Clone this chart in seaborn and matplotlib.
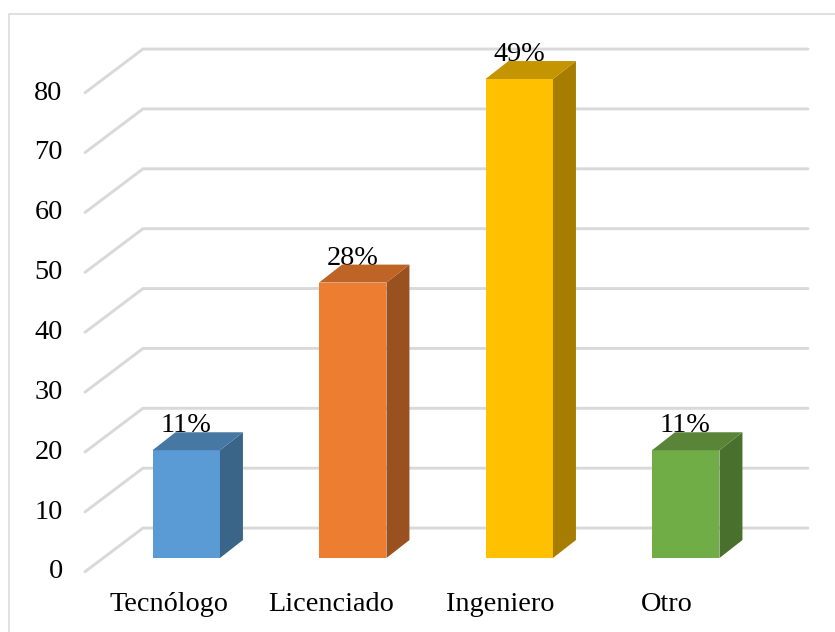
import matplotlib
matplotlib.use("Agg")
import matplotlib.pyplot as plt
import pandas as pd
import seaborn as sns
from matplotlib.lines import Line2D
from matplotlib.transforms import ScaledTranslation

# Chart data
categories = ["Tecnólogo", "Licenciado", "Ingeniero", "Otro"]
values = [18, 46, 80, 18]
percent_labels = ["11%", "28%", "49%", "11%"]
y_ticks = [0, 10, 20, 30, 40, 50, 60, 70, 80]

# Colours: front, side and top faces of each bar
front_colors = ["#5B9BD5", "#ED7D31", "#FFC000", "#70AD47"]
side_colors = ["#3B6588", "#9A5120", "#A67D00", "#4A702E"]
top_colors = ["#4777A3", "#BE6427", "#C49500", "#5A8539"]
grid_color = "#D9D9D9"

W, H = 835, 632
FS = 20.3

sns.set_theme(style="white")
plt.rcParams["font.family"] = ["Liberation Serif", "DejaVu Serif"]

df = pd.DataFrame({"grado": categories, "n": values})

fig = plt.figure(figsize=(W / 100, H / 100), dpi=100)
# axes box in pixels: x 103-769, y 79-558 (the plane of the bars)
ax = fig.add_axes([103 / W, 1 - 558 / H, 666 / W, 479 / H])

sns.barplot(data=df, x="grado", y="n", hue="grado", palette=front_colors, saturation=1,
            width=0.405, legend=False, ax=ax, zorder=3, linewidth=0)
ax.set_xlim(-0.5, 3.5)
ax.set_ylim(0, 80)
ax.set_xlabel("")
ax.set_ylabel("")
sns.despine(ax=ax, left=True, bottom=True)

# depth of the fake 3D look, in data units
depth_x = 0.138
depth_y = 3.0

# Back wall gridlines plus the diagonal on the side wall
for v in y_ticks:
    ax.plot([-0.608, -0.26, 3.734], [v - 2.29, v + 5.0, v + 5.0], color=grid_color, lw=2.1,
            solid_capstyle="round", solid_joinstyle="miter", clip_on=False, zorder=1)

# Side and top of each bar, and its label
bars = [c[0] for c in ax.containers]
for i, bar in enumerate(bars):
    x0 = bar.get_x()
    x1 = x0 + bar.get_width()
    h = bar.get_height()
    ax.fill([x1, x1 + depth_x, x1 + depth_x, x1], [0, depth_y, h + depth_y, h],
            color=side_colors[i], lw=0, clip_on=False, zorder=3)
    ax.fill([x0, x0 + depth_x, x1 + depth_x, x1], [h, h + depth_y, h + depth_y, h],
            color=top_colors[i], lw=0, clip_on=False, zorder=3)
    ax.text((x0 + x1) / 2 - 0.002, h + depth_y, percent_labels[i], ha="center", va="baseline",
            fontsize=FS, color="black", zorder=2)

# Ticks: labels sit lower than the plane of the bars
ax.set_yticks(y_ticks)
ax.set_yticklabels([str(v) for v in y_ticks], fontsize=FS, color="black")
ax.tick_params(axis="y", length=0, pad=29)
ax.tick_params(axis="x", length=0, pad=24.5)
ax.set_xticks(range(len(categories)))
ax.set_xticklabels(categories, fontsize=FS, color="black")
for lab in ax.get_yticklabels():
    lab.set_transform(lab.get_transform() + ScaledTranslation(0, -11 / 100, fig.dpi_scale_trans))
for lab, shift in zip(ax.get_xticklabels(), [-17, -22, -19, -19]):
    lab.set_transform(lab.get_transform() + ScaledTranslation(shift / 100, 0, fig.dpi_scale_trans))

# Chart frame, only top and left show in the crop
fig.add_artist(Line2D([8.5 / W, 8.5 / W, 1], [0, 1 - 13.5 / H, 1 - 13.5 / H], color=grid_color, lw=1.1))

fig.savefig("out.png", dpi=100)
